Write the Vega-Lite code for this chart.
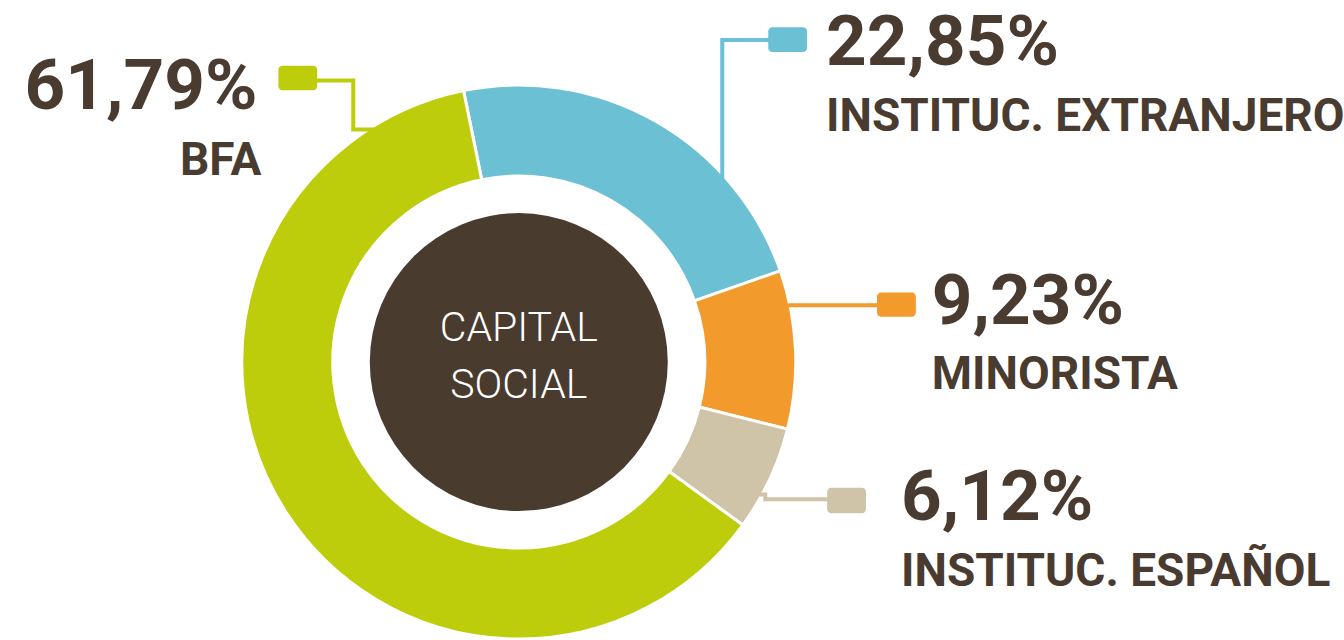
{
  "$schema": "https://vega.github.io/schema/vega-lite/v6.json",
  "width": 1344,
  "height": 640,
  "autosize": {"type": "fit", "contains": "padding"},
  "padding": 0,
  "background": "white",
  "config": {"view": {"stroke": null}},
  "datasets": {
    "segments": [
      {"category": "INSTITUC. EXTRANJERO", "pct": 22.85, "ord": 1},
      {"category": "MINORISTA", "pct": 9.23, "ord": 2},
      {"category": "INSTITUC. ESPAÑOL", "pct": 6.12, "ord": 3},
      {"category": "BFA", "pct": 61.79, "ord": 4}
    ],
    "leaders": [
      {"category": "INSTITUC. EXTRANJERO", "pt": 1, "u": 73.9, "v": 66.7},
      {"category": "INSTITUC. EXTRANJERO", "pt": 2, "u": 73.9, "v": 118.9},
      {"category": "INSTITUC. EXTRANJERO", "pt": 3, "u": 91.0, "v": 118.9},
      {"category": "BFA", "pt": 1, "u": -73.5, "v": 104.0},
      {"category": "BFA", "pt": 2, "u": -60.1, "v": 104.0},
      {"category": "BFA", "pt": 3, "u": -60.1, "v": 85.9},
      {"category": "BFA", "pt": 4, "u": -46.4, "v": 85.9},
      {"category": "MINORISTA", "pt": 1, "u": 97.8, "v": 21.0},
      {"category": "MINORISTA", "pt": 2, "u": 130.5, "v": 21.0},
      {"category": "INSTITUC. ESPAÑOL", "pt": 1, "u": 85.5, "v": -48.9},
      {"category": "INSTITUC. ESPAÑOL", "pt": 2, "u": 89.5, "v": -48.9},
      {"category": "INSTITUC. ESPAÑOL", "pt": 3, "u": 89.5, "v": -50.7},
      {"category": "INSTITUC. ESPAÑOL", "pt": 4, "u": 112.3, "v": -50.7}
    ],
    "markers": [
      {"category": "BFA", "u1": -87.3, "u2": -73.2, "v1": 109.4, "v2": 100.4},
      {"category": "INSTITUC. EXTRANJERO", "u1": 90.6, "u2": 104.7, "v1": 123.6, "v2": 114.5},
      {"category": "MINORISTA", "u1": 130.1, "u2": 144.2, "v1": 25.7, "v2": 16.7},
      {"category": "INSTITUC. ESPAÑOL", "u1": 112.0, "u2": 126.1, "v1": -46.4, "v2": -55.8}
    ],
    "labels": [
      {"category": "BFA", "kind": "pct", "text": "61,79%", "u": -94.9, "v": 93.5},
      {"category": "BFA", "kind": "name", "text": "BFA", "u": -93.5, "v": 69.2},
      {"category": "INSTITUC. EXTRANJERO", "kind": "pct", "text": "22,85%", "u": 111.6, "v": 109.8},
      {"category": "INSTITUC. EXTRANJERO", "kind": "name", "text": "INSTITUC. EXTRANJERO", "u": 111.6, "v": 85.2},
      {"category": "MINORISTA", "kind": "pct", "text": "9,23%", "u": 150.0, "v": 14.1},
      {"category": "MINORISTA", "kind": "name", "text": "MINORISTA", "u": 150.0, "v": -10.1},
      {"category": "INSTITUC. ESPAÑOL", "kind": "pct", "text": "6,12%", "u": 138.8, "v": -58.3},
      {"category": "INSTITUC. ESPAÑOL", "kind": "name", "text": "INSTITUC. ESPAÑOL", "u": 138.8, "v": -82.6}
    ],
    "center": [
      {"text": "CAPITAL", "u": 0, "v": 7.6},
      {"text": "SOCIAL", "u": 0, "v": -13.4}
    ]
  },
  "resolve": {"scale": {"x": "shared", "y": "shared"}},
  "layer": [
    {
      "data": {"name": "segments"},
      "mark": {"type": "arc", "outerRadius": 277, "innerRadius": 186, "stroke": "white", "strokeWidth": 3},
      "encoding": {
        "theta": {"field": "pct", "type": "quantitative", "stack": true, "scale": {"range": [-0.2007, 6.0825]}},
        "order": {"field": "ord", "type": "quantitative"},
        "color": {
          "field": "category", "type": "nominal", "legend": null,
          "scale": {"domain": ["BFA", "INSTITUC. EXTRANJERO", "MINORISTA", "INSTITUC. ESPAÑOL"], "range": ["#bdcd0b", "#6cc0d4", "#f39a2d", "#cfc4a8"]}
        },
        "x": {"datum": 0, "type": "quantitative", "scale": {"domain": [-188.4, 298.6], "nice": false, "zero": false}, "axis": null},
        "y": {"datum": 0, "type": "quantitative", "scale": {"domain": [-98.2, 133.7], "nice": false, "zero": false}, "axis": null}
      }
    },
    {
      "data": {"name": "leaders"},
      "mark": {"type": "line", "strokeWidth": 4, "strokeJoin": "miter", "strokeCap": "butt"},
      "encoding": {
        "x": {"field": "u", "type": "quantitative"},
        "y": {"field": "v", "type": "quantitative"},
        "order": {"field": "pt", "type": "quantitative"},
        "color": {"field": "category", "type": "nominal", "legend": null}
      }
    },
    {
      "data": {"name": "markers"},
      "mark": {"type": "rect", "cornerRadius": 4},
      "encoding": {
        "x": {"field": "u1", "type": "quantitative"},
        "x2": {"field": "u2"},
        "y": {"field": "v1", "type": "quantitative"},
        "y2": {"field": "v2"},
        "color": {"field": "category", "type": "nominal", "legend": null}
      }
    },
    {
      "data": {"values": [{"u": 0, "v": 0}]},
      "mark": {"type": "point", "shape": "circle", "filled": true, "size": 88804, "color": "#4a3b2f", "opacity": 1, "strokeWidth": 0},
      "encoding": {
        "x": {"field": "u", "type": "quantitative"},
        "y": {"field": "v", "type": "quantitative"}
      }
    },
    {
      "data": {"name": "center"},
      "mark": {"type": "text", "font": "Roboto", "fontWeight": 300, "fontSize": 41, "color": "white", "align": "center", "baseline": "alphabetic"},
      "encoding": {
        "x": {"field": "u", "type": "quantitative"},
        "y": {"field": "v", "type": "quantitative"},
        "text": {"field": "text"}
      }
    },
    {
      "data": {"name": "labels"},
      "transform": [{"filter": "datum.category !== 'BFA' && datum.kind === 'pct'"}],
      "mark": {"type": "text", "font": "Roboto", "fontWeight": "bold", "fontSize": 71, "color": "#4a3b30", "align": "left", "baseline": "alphabetic"},
      "encoding": {
        "x": {"field": "u", "type": "quantitative"},
        "y": {"field": "v", "type": "quantitative"},
        "text": {"field": "text"}
      }
    },
    {
      "data": {"name": "labels"},
      "transform": [{"filter": "datum.category !== 'BFA' && datum.kind === 'name'"}],
      "mark": {"type": "text", "font": "Roboto", "fontWeight": "bold", "fontSize": 46, "color": "#4a3b30", "align": "left", "baseline": "alphabetic"},
      "encoding": {
        "x": {"field": "u", "type": "quantitative"},
        "y": {"field": "v", "type": "quantitative"},
        "text": {"field": "text"}
      }
    },
    {
      "data": {"name": "labels"},
      "transform": [{"filter": "datum.category === 'BFA' && datum.kind === 'pct'"}],
      "mark": {"type": "text", "font": "Roboto", "fontWeight": "bold", "fontSize": 71, "color": "#4a3b30", "align": "right", "baseline": "alphabetic"},
      "encoding": {
        "x": {"field": "u", "type": "quantitative"},
        "y": {"field": "v", "type": "quantitative"},
        "text": {"field": "text"}
      }
    },
    {
      "data": {"name": "labels"},
      "transform": [{"filter": "datum.category === 'BFA' && datum.kind === 'name'"}],
      "mark": {"type": "text", "font": "Roboto", "fontWeight": "bold", "fontSize": 46, "color": "#4a3b30", "align": "right", "baseline": "alphabetic"},
      "encoding": {
        "x": {"field": "u", "type": "quantitative"},
        "y": {"field": "v", "type": "quantitative"},
        "text": {"field": "text"}
      }
    }
  ]
}
